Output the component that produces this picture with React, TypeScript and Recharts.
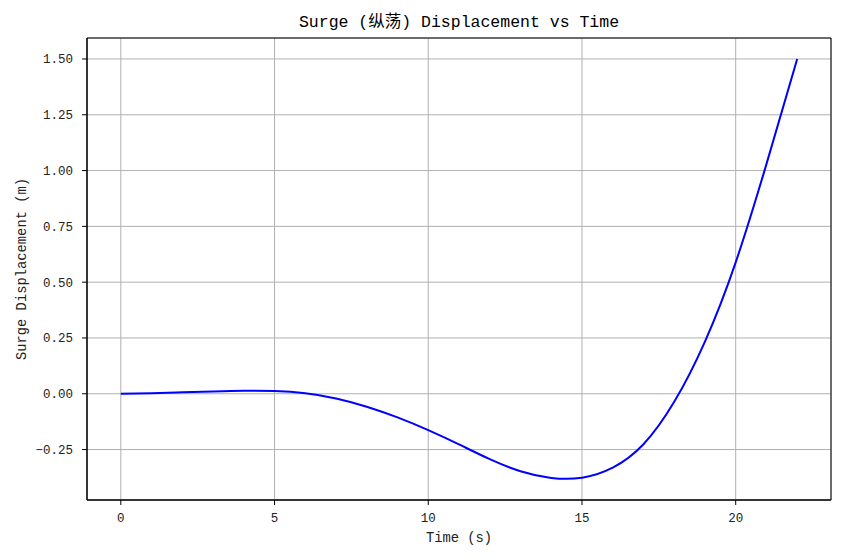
import {
  LineChart,
  Line,
  XAxis,
  YAxis,
  CartesianGrid,
  ReferenceArea,
  Label,
} from 'recharts'

const FONT = "'Liberation Mono', 'Noto Sans CJK SC', monospace"

const TIME_S = [0, 1, 2, 3, 4, 5, 6, 7, 8, 9, 10, 11, 12, 13, 14, 15, 16, 17, 18, 19, 20, 21, 22]

const SURGE_M = [
  0, 0.0025, 0.0065, 0.0105, 0.0135, 0.012, 0.002, -0.021, -0.058, -0.106, -0.163,
  -0.227, -0.293, -0.347, -0.377, -0.376, -0.331, -0.226, -0.036, 0.234, 0.589,
  1.029, 1.5,
]

const X_TICKS = [0, 5, 10, 15, 20]
const Y_TICKS = [-0.25, 0, 0.25, 0.5, 0.75, 1, 1.25, 1.5]

const X_DOMAIN: [number, number] = [-1.1, 23.1]
const Y_DOMAIN: [number, number] = [-0.476, 1.594]

const data = TIME_S.map((t, i) => ({ t, surge: SURGE_M[i] }))

const fmtY = (v: number) => v.toFixed(2).replace('-', '\u2212')

export default function App() {
  return (
    <div
      style={{
        position: 'absolute',
        left: 0,
        top: 0,
        width: 842,
        height: 558,
        background: '#fff',
        fontFamily: FONT,
      }}
    >
      <div
        style={{
          position: 'absolute',
          left: 87,
          width: 744,
          top: 15,
          fontSize: 16.5,
          lineHeight: '16.5px',
          textAlign: 'center',
          color: '#000',
        }}
      >
        Surge (纵荡) Displacement vs Time
      </div>
      <LineChart
        width={842}
        height={558}
        data={data}
        margin={{ top: 38, right: 11, bottom: 0, left: 0 }}
      >
        <CartesianGrid stroke="#b0b0b0" strokeWidth={1} />
        <XAxis
          dataKey="t"
          type="number"
          domain={X_DOMAIN}
          ticks={X_TICKS}
          allowDataOverflow
          height={58}
          tickSize={5}
          tickMargin={8}
          stroke="#000"
          tick={{ fontSize: 12.5, fill: '#222', fontFamily: FONT }}
        >
          <Label
            value="Time (s)"
            position="insideBottom"
            offset={16}
            style={{ fontSize: 13.8, fill: '#222', fontFamily: FONT }}
          />
        </XAxis>
        <YAxis
          type="number"
          domain={Y_DOMAIN}
          ticks={Y_TICKS}
          allowDataOverflow
          width={87}
          tickSize={5}
          tickMargin={9}
          stroke="#000"
          tickFormatter={fmtY}
          tick={{ fontSize: 12.5, fill: '#222', fontFamily: FONT }}
        >
          <Label
            value="Surge Displacement (m)"
            angle={-90}
            position="insideLeft"
            offset={21}
            style={{ fontSize: 13.8, fill: '#222', fontFamily: FONT, textAnchor: 'middle' }}
          />
        </YAxis>
        <Line
          type="natural"
          dataKey="surge"
          stroke="#0000ff"
          strokeWidth={2}
          dot={false}
          isAnimationActive={false}
        />
        <ReferenceArea
          x1={X_DOMAIN[0]}
          x2={X_DOMAIN[1]}
          y1={Y_DOMAIN[0]}
          y2={Y_DOMAIN[1]}
          fill="none"
          stroke="#000"
          strokeWidth={1}
          ifOverflow="visible"
        />
      </LineChart>
    </div>
  )
}
